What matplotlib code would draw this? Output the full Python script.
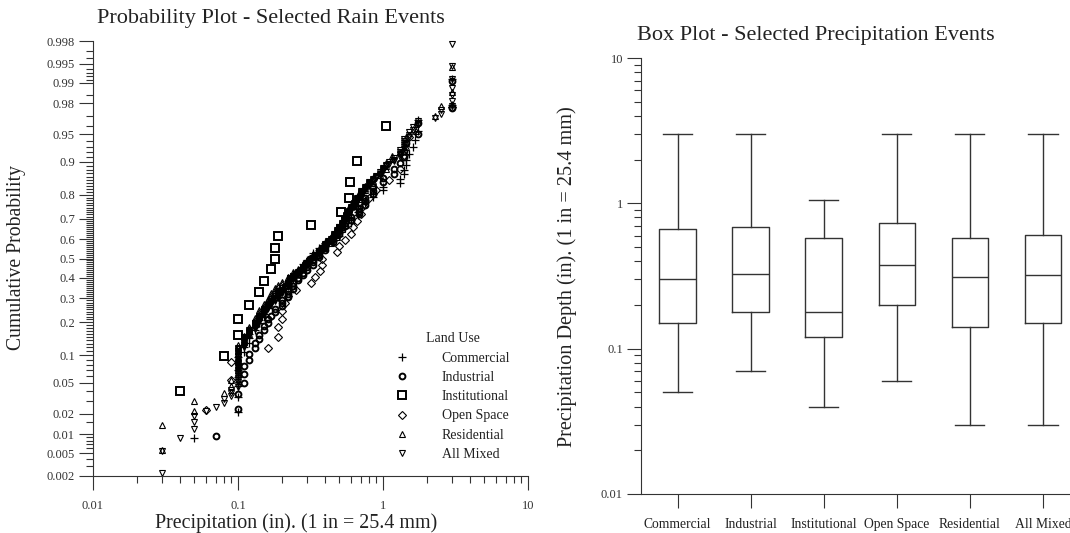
from statistics import NormalDist

import matplotlib
matplotlib.use('Agg')
import matplotlib.pyplot as plt
from matplotlib.lines import Line2D
from matplotlib.ticker import FixedLocator, LogLocator, NullFormatter
import numpy as np

plt.rcParams['font.family'] = ['Liberation Serif', 'DejaVu Serif']

# ---- probability plot data: event depths (in), as value / number of events
commercial_depth = [0.05, 0.10, 0.11, 0.12, 0.13, 0.14, 0.15, 0.16, 0.17, 0.18, 0.19, 0.20,
                    0.22, 0.24, 0.26, 0.28, 0.30, 0.33, 0.36, 0.40, 0.45, 0.50, 0.55, 0.60,
                    0.67, 0.75, 0.85, 1.00, 1.30, 1.40, 1.45, 1.50, 1.60, 1.65, 1.75, 3.00]
commercial_count = [1, 7, 2, 3, 2, 2, 3, 2, 2, 1, 2, 1,
                    3, 2, 2, 3, 2, 3, 2, 2, 2, 3, 2, 3,
                    4, 2, 2, 2, 2, 2, 2, 1, 1, 1, 2, 2]

industrial_depth = [0.07, 0.10, 0.11, 0.12, 0.13, 0.14, 0.15, 0.16, 0.17, 0.18, 0.20, 0.22,
                    0.24, 0.26, 0.28, 0.30, 0.33, 0.36, 0.40, 0.45, 0.50, 0.55, 0.60, 0.68,
                    0.75, 0.85, 1.00, 1.20, 1.30, 1.40, 1.45, 1.75, 3.00]
industrial_count = [1, 2, 3, 2, 2, 2, 2, 2, 1, 2, 3, 3,
                    3, 2, 2, 2, 3, 3, 3, 3, 3, 2, 2, 3,
                    3, 3, 2, 2, 1, 2, 1, 2, 2]

institutional_depth = [0.04, 0.08, 0.10, 0.10, 0.12, 0.14, 0.15, 0.17, 0.18, 0.18, 0.19,
                       0.32, 0.51, 0.58, 0.59, 0.66, 1.05]

open_space_depth = [0.06, 0.09, 0.09, 0.16, 0.19, 0.19, 0.20, 0.20, 0.21, 0.22, 0.25,
                    0.32, 0.34, 0.37, 0.38, 0.38, 0.48, 0.50, 0.55, 0.60, 0.62, 0.66,
                    0.70, 0.73, 0.80, 0.90, 1.10, 1.30, 1.40, 1.50, 3.00]

residential_depth = [0.03, 0.05, 0.08, 0.09, 0.10, 0.11, 0.12, 0.13, 0.14, 0.15, 0.16, 0.17,
                     0.18, 0.19, 0.20, 0.22, 0.24, 0.26, 0.28, 0.30, 0.31, 0.33, 0.36, 0.40,
                     0.44, 0.48, 0.52, 0.56, 0.58, 0.62, 0.68, 0.75, 0.85, 0.95, 1.05, 1.15,
                     1.30, 1.45, 1.70, 2.30, 2.50, 3.00]
residential_count = [2, 2, 1, 2, 9, 3, 4, 4, 4, 3, 3, 3,
                     3, 2, 2, 3, 3, 2, 3, 3, 1, 3, 3, 3,
                     4, 5, 5, 5, 3, 3, 4, 3, 3, 2, 3, 2,
                     1, 3, 2, 1, 1, 2]

all_mixed_depth = [0.03, 0.04, 0.05, 0.06, 0.07, 0.08, 0.09, 0.10, 0.11, 0.12, 0.13, 0.14,
                   0.15, 0.16, 0.17, 0.18, 0.19, 0.20, 0.21, 0.22, 0.23, 0.24, 0.25, 0.26,
                   0.27, 0.28, 0.29, 0.30, 0.31, 0.32, 0.34, 0.36, 0.38, 0.40, 0.42, 0.44,
                   0.46, 0.48, 0.50, 0.52, 0.54, 0.56, 0.58, 0.60, 0.63, 0.66, 0.70, 0.75,
                   0.80, 0.85, 0.90, 0.95, 1.00, 1.05, 1.10, 1.20, 1.30, 1.40, 1.50, 1.60,
                   1.75, 2.30, 2.50, 3.00]
all_mixed_count = [2, 1, 3, 1, 1, 2, 3, 24, 10, 7, 8, 8,
                   9, 5, 5, 4, 7, 6, 5, 6, 8, 3, 3, 3,
                   3, 5, 3, 4, 3, 4, 6, 6, 6, 5, 5, 3,
                   8, 6, 6, 5, 6, 6, 5, 5, 6, 6, 8, 4,
                   5, 3, 3, 3, 4, 2, 2, 3, 5, 6, 3, 2,
                   2, 1, 2, 7]

# ---- box plot statistics (in)
box_labels = ['Commercial', 'Industrial', 'Institutional', 'Open Space', 'Residential', 'All Mixed']
box_min = [0.05, 0.07, 0.04, 0.06, 0.03, 0.03]
box_q1 = [0.151, 0.18, 0.12, 0.20, 0.14, 0.151]
box_med = [0.30, 0.327, 0.18, 0.377, 0.313, 0.321]
box_q3 = [0.666, 0.684, 0.576, 0.729, 0.576, 0.601]
box_max = [3.0, 3.0, 1.055, 3.0, 3.0, 3.0]


def plotting_positions(depth, count=None):
    x = np.sort(np.repeat(depth, count if count is not None else 1))
    n = len(x)
    p = (np.arange(1, n + 1) - 0.3) / (n + 0.4)
    return x, p


nd = NormalDist()
_ppf = np.vectorize(lambda p: nd.inv_cdf(min(max(p, 1e-9), 1 - 1e-9)), otypes=[float])
_cdf = np.vectorize(nd.cdf, otypes=[float])


def prob_fwd(p):
    return _ppf(np.asarray(p, dtype=float))


def prob_inv(z):
    return _cdf(np.asarray(z, dtype=float))


ink = '#222222'
fig = plt.figure(figsize=(10.7, 5.33), dpi=100)

# ---------------- probability plot
ax1 = fig.add_axes([93 / 1070, 1 - 476 / 533, 435 / 1070, 435 / 533])

series = [
    ('Commercial', commercial_depth, commercial_count, dict(marker='+', ms=6, mew=0.9)),
    ('Industrial', industrial_depth, industrial_count, dict(marker='o', ms=4.2, mew=1.4)),
    ('Institutional', institutional_depth, None, dict(marker='s', ms=5.2, mew=1.4)),
    ('Open Space', open_space_depth, None, dict(marker='D', ms=3.6, mew=0.8)),
    ('Residential', residential_depth, residential_count, dict(marker='^', ms=4.6, mew=0.8)),
    ('All Mixed', all_mixed_depth, all_mixed_count, dict(marker='v', ms=4.6, mew=0.8)),
]

handles = []
for name, depth, count, style in series:
    x, p = plotting_positions(depth, count)
    ax1.plot(x, p, ls='none', mfc='none', mec='black', clip_on=False, **style)
    handles.append(Line2D([], [], ls='none', mfc='none', mec='black', label=name, **style))

ax1.set_xscale('log')
ax1.set_xlim(0.01, 10)
ax1.set_yscale('function', functions=(prob_fwd, prob_inv))
ax1.set_ylim(0.002, 0.998)

ax1.set_xticks([0.01, 0.1, 1, 10], labels=['0.01', '0.1', '1', '10'])
ax1.xaxis.set_minor_locator(LogLocator(base=10, subs=range(2, 10)))
ax1.xaxis.set_minor_formatter(NullFormatter())

prob_major = [0.002, 0.005, 0.01, 0.02, 0.05, 0.1, 0.2, 0.3, 0.4, 0.5, 0.6, 0.7, 0.8,
              0.9, 0.95, 0.98, 0.99, 0.995, 0.998]
prob_minor = ([0.003, 0.004, 0.006, 0.007, 0.008, 0.009, 0.015, 0.03, 0.04]
              + [round(v, 2) for v in np.arange(0.06, 0.95, 0.01)]
              + [0.96, 0.97, 0.985, 0.991, 0.992, 0.993, 0.994, 0.996, 0.997])
prob_minor = [v for v in prob_minor if v not in prob_major]
ax1.set_yticks(prob_major, labels=[f'{v:g}' for v in prob_major])
ax1.yaxis.set_minor_locator(FixedLocator(prob_minor))
ax1.yaxis.set_minor_formatter(NullFormatter())

ax1.tick_params(which='major', length=10, width=0.8, labelsize=9, pad=3,
                color='#333333', labelcolor='#333333')
ax1.tick_params(axis='x', which='major', pad=7)
ax1.tick_params(which='minor', length=5, width=0.8, color='#333333')
for side in ('top', 'right'):
    ax1.spines[side].set_visible(False)
for side in ('left', 'bottom'):
    ax1.spines[side].set_color('#333333')
    ax1.spines[side].set_linewidth(0.8)

leg = ax1.legend(handles=handles, title='Land Use', loc='upper left',
                 bbox_to_anchor=(0.695, 0.33), frameon=False, fontsize=10,
                 title_fontsize=10, handlelength=1.0, handletextpad=2.35,
                 labelspacing=0.45, borderpad=0, borderaxespad=0)
for t in leg.get_texts():
    t.set_color(ink)
leg.get_title().set_color(ink)

fig.text(271 / 1070, 1 - 18 / 533, 'Probability Plot - Selected Rain Events',
         ha='center', va='center', fontsize=16, color=ink)
fig.text(296 / 1070, 1 - 523 / 533, 'Precipitation (in). (1 in = 25.4 mm)',
         ha='center', va='center', fontsize=14.4, color=ink)
fig.text(17 / 1070, 1 - 258 / 533, 'Cumulative Probability', rotation=90,
         ha='center', va='center', fontsize=14.2, color=ink)

# ---------------- box plot
ax2 = fig.add_axes([641 / 1070, 1 - 494 / 533, 429 / 1070, 436 / 533])
stats = [dict(whislo=lo, q1=a, med=m, q3=b, whishi=hi, label=lab)
         for lo, a, m, b, hi, lab in zip(box_min, box_q1, box_med, box_q3, box_max, box_labels)]
line = dict(color='#333333', linewidth=1.0)
ax2.bxp(stats, positions=range(1, 7), widths=0.5, capwidths=0.4, showfliers=False,
        boxprops=line, whiskerprops=line, capprops=line, medianprops=line)
ax2.set_yscale('log')
ax2.set_ylim(0.01, 10)
ax2.set_xlim(0.5, 6.37)
ax2.set_yticks([0.01, 0.1, 1, 10], labels=['0.01', '0.1', '1', '10'])
ax2.yaxis.set_minor_locator(LogLocator(base=10, subs=range(2, 10)))
ax2.yaxis.set_minor_formatter(NullFormatter())
ax2.tick_params(which='major', length=10, width=0.8, labelsize=9, pad=3,
                color='#333333', labelcolor='#333333')
ax2.tick_params(which='minor', length=5, width=0.8, color='#333333')
ax2.tick_params(axis='x', labelsize=9.8, labelcolor=ink, pad=7)
for side in ('top', 'right'):
    ax2.spines[side].set_visible(False)
for side in ('left', 'bottom'):
    ax2.spines[side].set_color('#333333')
    ax2.spines[side].set_linewidth(0.8)

fig.text(816 / 1070, 1 - 35.5 / 533, 'Box Plot - Selected Precipitation Events',
         ha='center', va='center', fontsize=16, color=ink)
fig.text(567 / 1070, 1 - 277 / 533, 'Precipitation Depth (in). (1 in = 25.4 mm)',
         rotation=90, ha='center', va='center', fontsize=14.6, color=ink)

fig.savefig('out.png', dpi=100)
